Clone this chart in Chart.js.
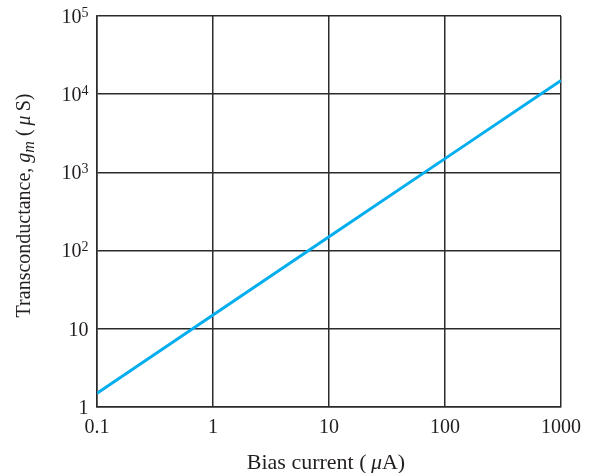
<!DOCTYPE html>
<html><head><meta charset="utf-8">
<script src="https://cdn.jsdelivr.net/npm/chart.js@4"></script>
<style>html,body{margin:0;padding:0;background:#fff}#wrap{width:594px;height:473px}</style>
</head><body><div id="wrap"><canvas id="c" width="594" height="473"></canvas></div>
<script>
const biasCurrent = [0.1, 1, 10, 100, 1000];
const transconductance = [1.5, 15, 150, 1500, 15000];
const xTickValues = [0.1, 1, 10, 100, 1000];
const xTickLabels = ['0.1', '1', '10', '100', '1000'];
const yTickValues = [1, 10, 100, 1000, 10000, 100000];
const yTickBase = ['1', '10', '10', '10', '10', '10'];
const yTickExp = ['', '', '2', '3', '4', '5'];
const xTitleParts = [['Bias current (', false], ['\u2009', false], ['\u03bc', true], ['A)', false]];
const yTitleParts = [['Transconductance, ', false], ['g', true], ['m', true, 'sub'], [' (', false], ['\u2009', false], ['\u03bc', true], ['\u2009S)', false]];

const SERIF = '"Liberation Serif", "DejaVu Serif", serif';
const INK = '#231f20';

function drawParts(ctx, parts, x, y, size) {
  let cx = x;
  for (const p of parts) {
    const sub = p[2] === 'sub';
    const fs = sub ? Math.round(size * 0.82) : size;
    ctx.font = (p[1] ? 'italic ' : '') + fs + 'px ' + SERIF;
    ctx.fillText(p[0], cx, sub ? y + size * 0.2 : y);
    cx += ctx.measureText(p[0]).width;
  }
  return cx - x;
}
function measureParts(ctx, parts, size) {
  let w = 0;
  for (const p of parts) {
    const sub = p[2] === 'sub';
    const fs = sub ? Math.round(size * 0.82) : size;
    ctx.font = (p[1] ? 'italic ' : '') + fs + 'px ' + SERIF;
    w += ctx.measureText(p[0]).width;
  }
  return w;
}

const labelsPlugin = {
  id: 'labels',
  afterDraw(chart) {
    const ctx = chart.ctx;
    const ys = chart.scales.y;
    const area = chart.chartArea;
    ctx.save();
    ctx.fillStyle = INK;
    ctx.textBaseline = 'alphabetic';
    ctx.textAlign = 'left';
    const right = 88.5;
    yTickValues.forEach((v, i) => {
      const py = ys.getPixelForValue(v);
      ctx.font = '20px ' + SERIF;
      const wb = ctx.measureText(yTickBase[i]).width;
      ctx.font = '14px ' + SERIF;
      const we = yTickExp[i] ? ctx.measureText(yTickExp[i]).width : 0;
      ctx.font = '20px ' + SERIF;
      ctx.fillText(yTickBase[i], right - we - wb, py + 6.8);
      if (yTickExp[i]) {
        ctx.font = '14px ' + SERIF;
        ctx.fillText(yTickExp[i], right - we, py + 0.5);
      }
    });
    // x title
    const xs = 22;
    const xw = measureParts(ctx, xTitleParts, xs);
    drawParts(ctx, xTitleParts, 326 - xw / 2, 469, xs);
    // y title
    const ysz = 20;
    const yw = measureParts(ctx, yTitleParts, ysz);
    const cy = (area.top + area.bottom) / 2 - 6;
    ctx.save();
    ctx.translate(30, cy + yw / 2);
    ctx.rotate(-Math.PI / 2);
    drawParts(ctx, yTitleParts, 0, 0, ysz);
    ctx.restore();
    ctx.restore();
  }
};

new Chart(document.getElementById('c'), {
  type: 'line',
  data: {
    datasets: [{
      data: biasCurrent.map((x, i) => ({ x: x, y: transconductance[i] })),
      borderColor: '#00aeef',
      borderWidth: 3,
      pointRadius: 0,
      tension: 0,
      fill: false
    }]
  },
  options: {
    responsive: false,
    animation: false,
    devicePixelRatio: 1,
    layout: { padding: { left: 0, right: 33, top: 16, bottom: 0 } },
    plugins: { legend: { display: false }, tooltip: { enabled: false } },
    scales: {
      x: {
        type: 'logarithmic',
        min: 0.1, max: 1000,
        afterBuildTicks: s => { s.ticks = xTickValues.map(v => ({ value: v })); },
        afterFit: s => { s.height = 66; },
        ticks: {
          callback: (v, i) => xTickLabels[i],
          font: { family: SERIF, size: 20 },
          color: INK, padding: 9, maxRotation: 0, autoSkip: false
        },
        grid: { color: '#2b2b2b', lineWidth: 1.5, drawTicks: false },
        border: { color: '#2b2b2b', width: 1.5 }
      },
      y: {
        type: 'logarithmic',
        min: 1, max: 100000,
        afterBuildTicks: s => { s.ticks = yTickValues.map(v => ({ value: v })); },
        afterFit: s => { s.width = 97; },
        ticks: { display: false },
        grid: { color: '#2b2b2b', lineWidth: 1.5, drawTicks: false },
        border: { color: '#2b2b2b', width: 1.5 }
      }
    }
  },
  plugins: [labelsPlugin]
});
</script></body></html>
